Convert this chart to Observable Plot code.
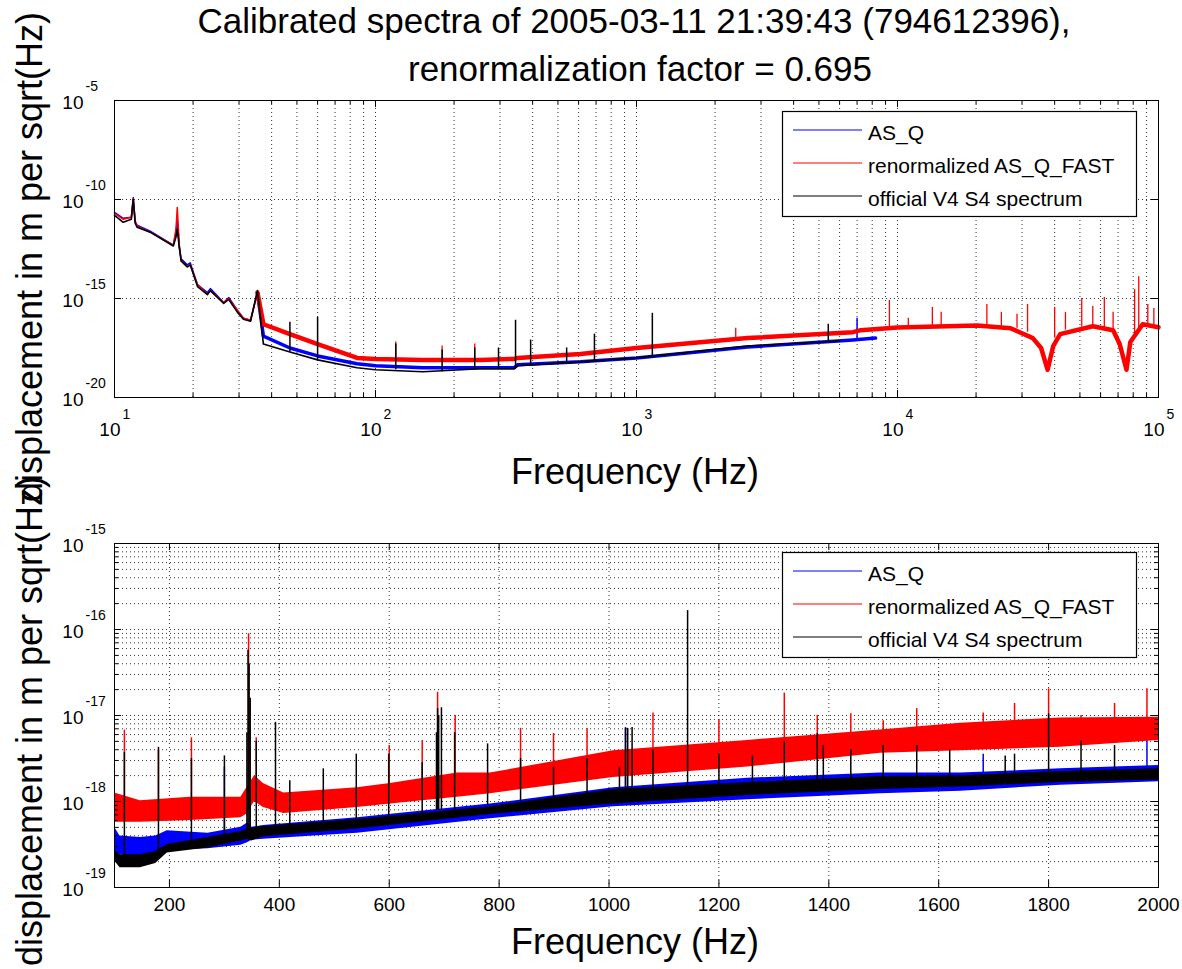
<!DOCTYPE html>
<html>
<head>
<meta charset="utf-8">
<script src="https://cdn.jsdelivr.net/npm/d3@7"></script>
<script src="https://cdn.jsdelivr.net/npm/@observablehq/plot@0.6"></script>
<style>
  body { margin: 0; background: #fff; }
  #wrap { position: relative; width: 1182px; height: 969px; overflow: hidden; background: #fff; }
  #p1, #p2, #ov { position: absolute; left: 0; }
  #p1 { top: 0; }
  #p2 { top: 500px; }
  #ov { top: 0; pointer-events: none; }
  text { font-family: "Liberation Sans", Arial, sans-serif; }
</style>
</head>
<body>
<div id="wrap"><div id="p1"></div><div id="p2"></div><svg id="ov" width="1182" height="969"></svg></div>
<script>
// ---------------- DATA (values are log10 of displacement, m/sqrt(Hz)) ----------------
// Top panel: log-log overview
const redTopF  = [10, 10.8, 11.6, 11.8, 12.0, 12.2, 13.7, 16.8, 17.2, 17.4, 17.7, 18.0, 19.0, 19.5, 20.8, 22.7, 23.3, 26.2, 27.4, 29.6, 31.2, 33.2, 35.3, 37.2, 47, 60, 85, 100, 152, 252, 340, 350, 610, 1000, 2660, 6750, 7240, 10000, 20200, 27100, 33000, 35500, 37600, 39500, 42000, 56000, 67000, 71000, 75400, 78000, 87000, 100000];
const redTopV  = [-10.7, -11.0, -10.9, -9.95, -11.1, -11.35, -11.65, -12.3, -11.5, -10.4, -12.3, -13.1, -13.4, -13.3, -14.3, -14.8, -14.6, -15.2, -15.0, -15.6, -16.0, -16.1, -14.7, -16.3, -16.8, -17.3, -18.0, -18.05, -18.1, -18.1, -18.05, -18.0, -17.8, -17.5, -17.0, -16.7, -16.6, -16.47, -16.36, -16.5, -17.0, -17.5, -18.6, -17.4, -16.8, -16.4, -16.6, -17.3, -18.6, -17.2, -16.3, -16.45];

const blueTopF = [10, 10.8, 11.6, 11.8, 12.0, 12.2, 13.7, 16.8, 17.2, 17.4, 17.7, 18.0, 19.0, 19.5, 20.8, 22.7, 23.3, 26.2, 27.4, 29.6, 31.2, 33.2, 35.3, 37.2, 47, 60, 85, 100, 152, 252, 340, 350, 610, 1000, 2660, 6750, 8240];
const blueTopV = [-10.65, -10.95, -10.9, -9.9, -11.1, -11.3, -11.6, -12.3, -11.7, -11.0, -12.3, -13.0, -13.3, -13.2, -14.3, -14.7, -14.5, -15.2, -14.95, -15.6, -16.0, -16.1, -14.7, -16.9, -17.5, -17.9, -18.3, -18.4, -18.5, -18.5, -18.5, -18.35, -18.2, -18.0, -17.45, -17.1, -17.0];

const blackTopF = [10, 10.8, 11.6, 11.8, 12.0, 12.2, 13.7, 16.8, 17.2, 17.4, 17.7, 18.0, 19.0, 19.5, 20.8, 22.7, 23.3, 26.2, 27.4, 29.6, 31.2, 33.2, 35.3, 37.2, 47, 60, 85, 100, 152, 252, 340, 350, 610, 1000, 2660, 6000];
const blackTopV = [-10.8, -11.15, -11.0, -10.0, -11.2, -11.4, -11.65, -12.35, -11.9, -11.5, -12.4, -13.1, -13.4, -13.3, -14.4, -14.8, -14.6, -15.25, -15.05, -15.7, -16.05, -16.15, -14.6, -17.3, -17.7, -18.1, -18.5, -18.6, -18.7, -18.55, -18.55, -18.4, -18.2, -18.0, -17.4, -17.15];

// narrow lines (frequency, foot, tip)
const blackTopPeakF  = [47, 60, 119.6, 180, 240, 296, 344, 393, 540, 690, 1150, 5430];
const blackTopPeakLo = [-17.7, -18.1, -18.6, -18.7, -18.6, -18.55, -18.5, -18.4, -18.3, -18.2, -18.0, -17.2];
const blackTopPeakHi = [-16.2, -15.95, -17.3, -17.6, -17.5, -17.5, -16.1, -17.1, -17.5, -16.8, -15.75, -16.3];

const redTopPeakF  = [119.6, 180, 240, 2400, 9310, 11000, 13600, 14700, 22000, 25000, 28700, 31500, 40000, 44000, 50800, 56000, 62000, 67000, 81000, 84000, 91000, 96000];
const redTopPeakLo = [-18.05, -18.05, -18.1, -17.0, -16.55, -16.5, -16.45, -16.45, -16.4, -16.4, -16.5, -16.7, -17.0, -16.6, -16.45, -16.4, -16.5, -16.6, -17.0, -16.6, -16.35, -16.4];
const redTopPeakHi = [-17.2, -17.4, -17.3, -16.5, -15.1, -16.0, -15.45, -15.7, -15.3, -15.7, -15.8, -15.3, -15.45, -15.7, -15.0, -15.4, -14.95, -15.7, -14.55, -13.9, -15.3, -15.5];

const blueTopPeakF  = [7000];
const blueTopPeakLo = [-17.1];
const blueTopPeakHi = [-16.0];

// Bottom panel: 100-2000 Hz zoom, noise bands (lower / upper edge)
const redBotF  = [100, 147, 238, 330, 340, 355, 371, 408, 542, 602, 724, 784, 1008, 1252, 1494, 1640, 1822, 2000];
const redBotLo = [-18.24, -18.24, -18.22, -18.19, -18.15, -18.0, -18.07, -18.14, -18.07, -18.03, -17.95, -17.91, -17.72, -17.60, -17.44, -17.41, -17.37, -17.29];
const redBotHi = [-17.90, -17.99, -17.95, -17.95, -17.85, -17.7, -17.79, -17.90, -17.84, -17.79, -17.67, -17.67, -17.41, -17.29, -17.17, -17.09, -17.03, -17.02];

const blueBotF  = [100, 110, 147, 175, 196, 270, 330, 342, 350, 371, 542, 784, 1008, 1252, 1494, 1640, 1822, 2000];
const blueBotLo = [-18.60, -18.62, -18.65, -18.62, -18.57, -18.55, -18.51, -18.48, -18.45, -18.44, -18.37, -18.20, -18.06, -17.98, -17.91, -17.88, -17.81, -17.77];
const blueBotHi = [-18.30, -18.40, -18.42, -18.40, -18.34, -18.37, -18.30, -18.25, -18.30, -18.28, -18.19, -18.03, -17.84, -17.73, -17.67, -17.67, -17.62, -17.58];

const blackBotF  = [100, 110, 147, 175, 196, 270, 330, 342, 350, 371, 542, 784, 1008, 1252, 1494, 1640, 1822, 2000];
const blackBotLo = [-18.69, -18.77, -18.77, -18.72, -18.60, -18.54, -18.46, -18.44, -18.46, -18.41, -18.32, -18.15, -18.03, -17.93, -17.86, -17.83, -17.78, -17.75];
const blackBotHi = [-18.57, -18.62, -18.62, -18.58, -18.50, -18.42, -18.35, -18.32, -18.31, -18.29, -18.21, -18.06, -17.86, -17.78, -17.71, -17.70, -17.65, -17.62];

const redBotPeakF  = [118, 180, 240, 344, 358, 600, 660, 688, 720, 839, 899, 960, 1080, 1200, 1319, 1379, 1440, 1499, 1560, 1681, 1738, 1800, 1859, 1920, 1979];
const redBotPeakLo = [-18.05, -18.07, -18.08, -18.0, -17.9, -17.9, -17.85, -17.8, -17.8, -17.7, -17.65, -17.6, -17.55, -17.5, -17.45, -17.4, -17.35, -17.3, -17.28, -17.25, -17.22, -17.2, -17.18, -17.16, -17.15];
const redBotPeakHi = [-17.17, -17.4, -17.26, -16.05, -17.26, -17.35, -17.29, -16.73, -17.0, -17.15, -17.21, -17.15, -16.97, -17.05, -16.74, -17.0, -16.98, -17.06, -16.92, -16.97, -16.86, -16.69, -17.0, -16.86, -16.69];

const blueBotPeakF  = [300, 1030, 1681, 1979];
const blueBotPeakLo = [-18.45, -17.95, -17.75, -17.7];
const blueBotPeakHi = [-17.6, -17.14, -17.45, -17.23];

const blackBotPeakF  = [118, 180, 240, 300, 341, 343, 345, 347, 358, 393, 419, 480, 540, 599, 660, 686, 688, 690, 695, 719, 779, 839, 899, 960, 1019, 1030, 1034, 1042, 1080, 1143, 1200, 1261, 1319, 1379, 1390, 1440, 1499, 1560, 1620, 1721, 1738, 1800, 1859, 1920];
const blackBotPeakLo = [-18.65, -18.6, -18.5, -18.4, -18.4, -18.4, -18.4, -18.4, -18.35, -18.3, -18.3, -18.25, -18.22, -18.18, -18.15, -18.1, -18.1, -18.1, -18.1, -18.1, -18.05, -18.0, -17.98, -17.95, -17.93, -17.93, -17.93, -17.93, -17.9, -17.87, -17.85, -17.82, -17.8, -17.78, -17.78, -17.75, -17.75, -17.74, -17.73, -17.71, -17.71, -17.7, -17.69, -17.67];
const blackBotPeakHi = [-17.43, -17.37, -17.5, -17.47, -17.2, -16.24, -16.4, -16.8, -17.3, -17.08, -17.76, -17.62, -17.45, -17.45, -17.55, -17.2, -16.92, -17.0, -16.91, -17.2, -17.33, -17.5, -17.6, -17.5, -17.6, -17.15, -17.15, -17.14, -17.4, -15.78, -17.45, -17.47, -17.3, -17.21, -17.35, -17.4, -17.35, -17.35, -17.4, -17.47, -17.45, -16.98, -17.3, -17.35];

// Tick values
const topXMajor = [10, 100, 1000, 10000, 100000];
const topYMajor = [1e-20, 1e-15, 1e-10, 1e-5];
const botXMajor = [200, 400, 600, 800, 1000, 1200, 1400, 1600, 1800, 2000];
const botYMajor = [1e-19, 1e-18, 1e-17, 1e-16, 1e-15];

// Texts
const titleLines = ["Calibrated spectra of 2005-03-11 21:39:43 (794612396),", "renormalization factor = 0.695"];
const xLabel = "Frequency (Hz)";
const yLabel = "displacement in m per sqrt(Hz)";
const legendNames = ["AS_Q", "renormalized AS_Q_FAST", "official V4 S4 spectrum"];
const legendColors = ["#0000ff", "#ff0000", "#000000"];

// ---------------- helpers ----------------
const pts = (F, V) => F.map((f, i) => ({f, v: Math.pow(10, V[i])}));
const bands = (F, L, H) => F.map((f, i) => ({f, lo: Math.pow(10, L[i]), hi: Math.pow(10, H[i])}));
const minorLog = (decades) => decades.flatMap(d => [2,3,4,5,6,7,8,9].map(k => k * Math.pow(10, d)));

const FONT = "'Liberation Sans', Arial, Helvetica, sans-serif";
const grid = {stroke: "#000", strokeOpacity: 0.8, strokeDasharray: "1,3", strokeWidth: 1};

// ---------------- TOP PANEL ----------------
{
  const W = 1182, H = 500, mL = 114, mR = 24, mT = 100, mB = 103;
  const pw = W - mL - mR, ph = H - mT - mB;
  const red = pts(redTopF, redTopV), blue = pts(blueTopF, blueTopV), black = pts(blackTopF, blackTopV);
  const xMinor = minorLog([1, 2, 3, 4]);
  const xGrid = xMinor.concat([100, 1000, 10000]);
  const yExp = topYMajor.map(v => ({v, e: String(Math.round(Math.log10(v)))}));
  const xExp = topXMajor.map(v => ({v, e: String(Math.round(Math.log10(v)))}));
  const svg = Plot.plot({
    width: W, height: H, marginLeft: mL, marginRight: mR, marginTop: mT, marginBottom: mB,
    style: {fontFamily: FONT, background: "transparent", color: "#000"},
    x: {type: "log", domain: [10, 1e5], axis: null},
    y: {type: "log", domain: [1e-20, 1e-5], axis: null},
    marks: [
      Plot.ruleX(xGrid, {x: d => d, ...grid}),
      Plot.ruleY([1e-15, 1e-10], {y: d => d, ...grid}),
      Plot.line(blue.filter(d => d.f <= 37.2), {x: "f", y: "v", stroke: "#0000ff", strokeWidth: 1.5}),
      Plot.line(blue.filter(d => d.f >= 35.3), {x: "f", y: "v", stroke: "#0000ff", strokeWidth: 3.5}),
      Plot.ruleX(bands(blueTopPeakF, blueTopPeakLo, blueTopPeakHi), {x: "f", y1: "lo", y2: "hi", stroke: "#0000ff", strokeWidth: 1.5}),
      Plot.line(red.filter(d => d.f <= 37.2), {x: "f", y: "v", stroke: "#ff0000", strokeWidth: 1.5}),
      Plot.line(red.filter(d => d.f >= 35.3), {x: "f", y: "v", stroke: "#ff0000", strokeWidth: 4.5}),
      Plot.ruleX(bands(redTopPeakF, redTopPeakLo, redTopPeakHi), {x: "f", y1: "lo", y2: "hi", stroke: "#ff0000", strokeWidth: 1.3}),
      Plot.line(black, {x: "f", y: "v", stroke: "#000", strokeWidth: 1.6}),
      Plot.ruleX(bands(blackTopPeakF, blackTopPeakLo, blackTopPeakHi), {x: "f", y1: "lo", y2: "hi", stroke: "#000", strokeWidth: 1.5}),
      // ticks (inside)
      Plot.ruleX(topXMajor, {x: d => d, insetTop: ph - 7, stroke: "#000"}),
      Plot.ruleX(topXMajor, {x: d => d, insetBottom: ph - 7, stroke: "#000"}),
      Plot.ruleX(xMinor, {x: d => d, insetTop: ph - 4, stroke: "#000"}),
      Plot.ruleX(xMinor, {x: d => d, insetBottom: ph - 4, stroke: "#000"}),
      Plot.ruleY(topYMajor, {y: d => d, insetRight: pw - 7, stroke: "#000"}),
      Plot.ruleY(topYMajor, {y: d => d, insetLeft: pw - 7, stroke: "#000"}),
      Plot.frame({stroke: "#000"}),
      // tick labels 10^n
      Plot.text(xExp, {x: "v", text: () => "10", frameAnchor: "bottom", dy: 38, dx: 6, textAnchor: "end", fontSize: 19, fill: "#000"}),
      Plot.text(xExp, {x: "v", text: "e", frameAnchor: "bottom", dy: 21, dx: 8, textAnchor: "start", fontSize: 14, fill: "#000"}),
      Plot.text(yExp, {y: "v", text: () => "10", frameAnchor: "left", dx: -31, dy: 2, textAnchor: "end", fontSize: 19, fill: "#000"}),
      Plot.text(yExp, {y: "v", text: "e", frameAnchor: "left", dx: -29, dy: -14, textAnchor: "start", fontSize: 14, fill: "#000"})
    ]
  });
  document.getElementById("p1").appendChild(svg);
}

// ---------------- BOTTOM PANEL ----------------
{
  const W = 1182, H = 469, mL = 114, mR = 24, mT = 43, mB = 82;
  const pw = W - mL - mR, ph = H - mT - mB;
  const yMinor = minorLog([-19, -18, -17, -16]);
  const yExp = botYMajor.map(v => ({v, e: String(Math.round(Math.log10(v)))}));
  const svg = Plot.plot({
    width: W, height: H, marginLeft: mL, marginRight: mR, marginTop: mT, marginBottom: mB,
    style: {fontFamily: FONT, background: "transparent", color: "#000"},
    x: {type: "linear", domain: [100, 2000], axis: null},
    y: {type: "log", domain: [1e-19, 1e-15], axis: null},
    marks: [
      Plot.ruleX(botXMajor.filter(d => d < 2000), {x: d => d, ...grid}),
      Plot.ruleY(yMinor.concat([1e-18, 1e-17, 1e-16]), {y: d => d, ...grid}),
      Plot.areaY(bands(blueBotF, blueBotLo, blueBotHi), {x: "f", y1: "lo", y2: "hi", fill: "#0000ff"}),
      Plot.ruleX(bands(blueBotPeakF, blueBotPeakLo, blueBotPeakHi), {x: "f", y1: "lo", y2: "hi", stroke: "#0000ff", strokeWidth: 1.5}),
      Plot.areaY(bands(redBotF, redBotLo, redBotHi), {x: "f", y1: "lo", y2: "hi", fill: "#ff0000"}),
      Plot.ruleX(bands(redBotPeakF, redBotPeakLo, redBotPeakHi), {x: "f", y1: "lo", y2: "hi", stroke: "#ff0000", strokeWidth: 1.5}),
      Plot.areaY(bands(blackBotF, blackBotLo, blackBotHi), {x: "f", y1: "lo", y2: "hi", fill: "#000"}),
      Plot.ruleX(bands(blackBotPeakF, blackBotPeakLo, blackBotPeakHi), {x: "f", y1: "lo", y2: "hi", stroke: "#000", strokeWidth: 1.5}),
      // ticks
      Plot.ruleX(botXMajor, {x: d => d, insetTop: ph - 7, stroke: "#000"}),
      Plot.ruleX(botXMajor, {x: d => d, insetBottom: ph - 7, stroke: "#000"}),
      Plot.ruleY(botYMajor, {y: d => d, insetRight: pw - 7, stroke: "#000"}),
      Plot.ruleY(botYMajor, {y: d => d, insetLeft: pw - 7, stroke: "#000"}),
      Plot.ruleY(yMinor, {y: d => d, insetRight: pw - 4, stroke: "#000"}),
      Plot.ruleY(yMinor, {y: d => d, insetLeft: pw - 4, stroke: "#000"}),
      Plot.frame({stroke: "#000"}),
      Plot.text(botXMajor, {x: d => d, text: d => String(d), frameAnchor: "bottom", dy: 23, fontSize: 19, fill: "#000"}),
      Plot.text(yExp, {y: "v", text: () => "10", frameAnchor: "left", dx: -31, dy: 2, textAnchor: "end", fontSize: 19, fill: "#000"}),
      Plot.text(yExp, {y: "v", text: "e", frameAnchor: "left", dx: -29, dy: -14, textAnchor: "start", fontSize: 14, fill: "#000"})
    ]
  });
  document.getElementById("p2").appendChild(svg);
}

// ---------------- OVERLAY: title, axis titles, legends ----------------
{
  const ov = d3.select("#ov");
  const t = ov.append("g").attr("font-family", FONT).attr("fill", "#000");
  t.append("text").attr("x", 634).attr("y", 33).attr("text-anchor", "middle").attr("font-size", 35).text(titleLines[0]);
  t.append("text").attr("x", 640).attr("y", 81).attr("text-anchor", "middle").attr("font-size", 35).text(titleLines[1]);
  t.append("text").attr("x", 635).attr("y", 484).attr("text-anchor", "middle").attr("font-size", 36).text(xLabel);
  t.append("text").attr("x", 635).attr("y", 954).attr("text-anchor", "middle").attr("font-size", 36).text(xLabel);
  t.append("text").attr("transform", "translate(42,257) rotate(-90)").attr("text-anchor", "middle").attr("font-size", 36).text(yLabel);
  t.append("text").attr("transform", "translate(42,721) rotate(-90)").attr("text-anchor", "middle").attr("font-size", 36).text(yLabel);

  const legend = (x0, y0) => {
    const g = ov.append("g").attr("font-family", FONT);
    g.append("rect").attr("x", x0 + 0.5).attr("y", y0 + 0.5).attr("width", 354).attr("height", 105)
      .attr("fill", "#fff").attr("stroke", "#000").attr("stroke-width", 1.2);
    legendNames.forEach((name, i) => {
      const y = y0 + 19 + i * 33;
      g.append("line").attr("x1", x0 + 11).attr("x2", x0 + 80).attr("y1", y).attr("y2", y)
        .attr("stroke", legendColors[i]).attr("stroke-width", 1.2);
      g.append("text").attr("x", x0 + 86).attr("y", y + 10).attr("font-size", 21).attr("fill", "#000").text(name);
    });
  };
  legend(782, 111);
  legend(782, 552);
}
</script>
</body>
</html>
